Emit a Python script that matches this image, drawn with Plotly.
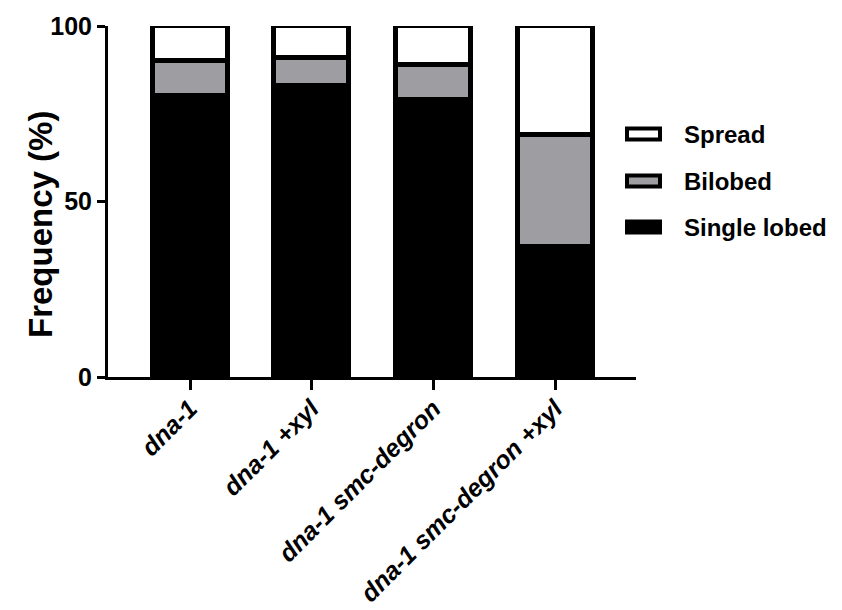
import plotly.graph_objects as go

categories = ["dna-1", "dna-1 +xyl", "dna-1 smc-degron", "dna-1 smc-degron +xyl"]
single_lobed = [80, 83, 79, 37]
bilobed = [10, 8, 10, 32]
spread = [10, 9, 11, 31]

series_names = ["Single lobed", "Bilobed", "Spread"]
series_values = [single_lobed, bilobed, spread]
series_colors = ["#000000", "#9e9ea2", "#ffffff"]

y_ticks = [0, 50, 100]

FONT = "Liberation Sans, Arial, sans-serif"

fig = go.Figure()
for name, vals, col in zip(series_names, series_values, series_colors):
    fig.add_trace(go.Bar(
        x=list(range(len(categories))), y=vals, name=name,
        marker=dict(color=col, line=dict(color="#000000", width=5)),
        width=0.616, cliponaxis=False, showlegend=False,
    ))

# plot area in pixels
L, R, T, B = 108, 636, 26, 377
W, H = 842, 610

def px2paper(px, py):
    return (px - L) / (R - L), (B - py) / (B - T)

shapes = []
annotations = []
legend_items = [("Spread", "#ffffff", 134), ("Bilobed", "#9e9ea2", 181), ("Single lobed", "#000000", 227)]
for label, col, cy in legend_items:
    x0, y0 = px2paper(627, cy + 5.5)
    x1, y1 = px2paper(660, cy - 5.5)
    shapes.append(dict(type="rect", xref="paper", yref="paper", x0=x0, y0=y0, x1=x1, y1=y1,
                       fillcolor=col, line=dict(color="#000000", width=4), layer="above"))
    tx, ty = px2paper(682, cy)
    annotations.append(dict(xref="paper", yref="paper", x=tx, y=ty, xanchor="left", yanchor="middle",
                            text=label, showarrow=False,
                            font=dict(family=FONT, size=24, color="#000000", weight=700)))

tx, ty = px2paper(40, 225)
annotations.append(dict(xref="paper", yref="paper", x=tx, y=ty, xanchor="center", yanchor="middle",
                        text="Frequency (%)", textangle=-90, showarrow=False,
                        font=dict(family=FONT, size=33, color="#000000", weight=700)))

fig.update_layout(
    width=W, height=H,
    margin=dict(l=L, r=W - R, t=T, b=H - B, pad=0, autoexpand=False),
    paper_bgcolor="white", plot_bgcolor="white",
    barmode="stack", bargap=0,
    showlegend=False,
    shapes=shapes, annotations=annotations,
    font=dict(family=FONT, color="#000000"),
)
fig.update_xaxes(
    range=[-0.674, 3.665], tickmode="array",
    tickvals=list(range(len(categories))), ticktext=categories,
    tickangle=-45, showline=True, linewidth=3, linecolor="#000000",
    ticks="outside", ticklen=10, tickwidth=3, tickcolor="#000000",
    tickfont=dict(family=FONT, size=25, color="#000000", weight=700, style="italic"),
    ticklabelstandoff=-6,
    showgrid=False, zeroline=False, fixedrange=True, automargin=False,
)
fig.update_yaxes(
    range=[0, 100], tickmode="array", tickvals=y_ticks,
    ticktext=[str(v) for v in y_ticks],
    showline=True, linewidth=3, linecolor="#000000",
    ticks="outside", ticklen=8, tickwidth=3, tickcolor="#000000",
    tickfont=dict(family=FONT, size=25, color="#000000", weight=700),
    showgrid=False, zeroline=False, fixedrange=True, automargin=False,
)

fig.write_html("out.html", config={"displayModeBar": False})
